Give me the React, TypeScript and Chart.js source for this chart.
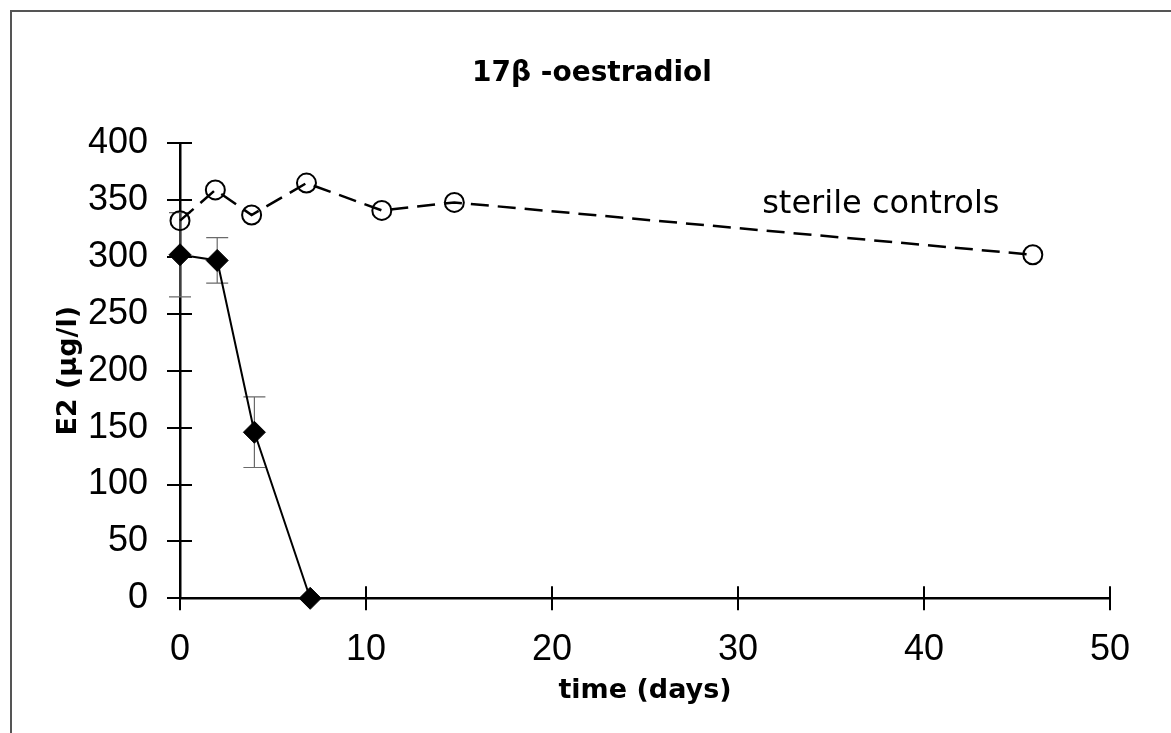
import React, { useEffect, useRef } from 'react';
import { Chart, registerables } from 'chart.js';

Chart.register(...registerables);

const TITLE = '17β -oestradiol';
const X_TITLE = 'time (days)';
const Y_TITLE = 'E2 (µg/l)';
const CONTROL_LABEL = 'sterile controls';

// inoculated series (filled diamonds, solid line) with error bars
const inoculatedDays = [0, 2, 4, 7];
const inoculatedE2 = [302, 297, 146, 0];
const inoculatedErr = [37, 20, 31, 0];

// sterile controls (open circles, dashed line)
const controlDays = [0, 1.9, 3.85, 6.8, 10.85, 14.75, 45.85];
const controlE2 = [332, 359, 337, 365, 341, 348, 302];

const X_MIN = 0;
const X_MAX = 50;
const X_STEP = 10;
const Y_MIN = 0;
const Y_MAX = 400;
const Y_STEP = 50;

// anchor of the "sterile controls" text, in data units
const LABEL_AT_X = 31.3;
const LABEL_AT_Y = 338.7;

const NUM_FONT = '"Liberation Sans", Arial, sans-serif';
const TEXT_FONT = '"DejaVu Sans", sans-serif';

const annotate = {
  id: 'annotate',
  beforeDatasetsDraw(chart: any) {
    const { ctx, chartArea, scales } = chart;
    const x = scales.x;
    const y = scales.y;
    ctx.save();
    ctx.strokeStyle = '#000';
    ctx.lineWidth = 2;
    y.ticks.forEach((t: any) => {
      const py = Math.round(y.getPixelForValue(t.value));
      ctx.beginPath();
      ctx.moveTo(chartArea.left - 13, py);
      ctx.lineTo(chartArea.left + 12, py);
      ctx.stroke();
    });
    x.ticks.forEach((t: any) => {
      const px = Math.round(x.getPixelForValue(t.value));
      ctx.beginPath();
      ctx.moveTo(px, chartArea.bottom - 12);
      ctx.lineTo(px, chartArea.bottom + 12);
      ctx.stroke();
    });
    // error bars
    ctx.strokeStyle = '#6a6a6a';
    ctx.lineWidth = 1.2;
    inoculatedDays.forEach((d, i) => {
      const e = inoculatedErr[i];
      if (!e) return;
      const px = x.getPixelForValue(d);
      const top = y.getPixelForValue(inoculatedE2[i] + e);
      const bot = y.getPixelForValue(inoculatedE2[i] - e);
      ctx.beginPath();
      ctx.moveTo(px, top);
      ctx.lineTo(px, bot);
      ctx.moveTo(px - 11, top);
      ctx.lineTo(px + 11, top);
      ctx.moveTo(px - 11, bot);
      ctx.lineTo(px + 11, bot);
      ctx.stroke();
    });
    // series label
    ctx.fillStyle = '#000';
    ctx.font = '32px ' + TEXT_FONT;
    ctx.textAlign = 'left';
    ctx.textBaseline = 'alphabetic';
    ctx.fillText(CONTROL_LABEL, x.getPixelForValue(LABEL_AT_X), y.getPixelForValue(LABEL_AT_Y));
    ctx.restore();
  },
};

export default function App() {
  const ref = useRef<HTMLCanvasElement | null>(null);

  useEffect(() => {
    if (!ref.current) return;
    const chart = new Chart(ref.current, {
      type: 'line',
      data: {
        datasets: [
          {
            label: 'inoculated',
            data: inoculatedDays.map((d, i) => ({ x: d, y: inoculatedE2[i] })),
            borderColor: '#000',
            borderWidth: 2,
            pointStyle: 'rectRot',
            pointRadius: 11,
            pointBackgroundColor: '#000',
            pointBorderColor: '#000',
            pointBorderWidth: 1,
            fill: false,
            tension: 0,
            clip: false,
          } as any,
          {
            label: CONTROL_LABEL,
            data: controlDays.map((d, i) => ({ x: d, y: controlE2[i] })),
            borderColor: '#000',
            borderWidth: 2.5,
            borderDash: [18, 9],
            pointStyle: 'circle',
            pointRadius: 9.5,
            pointBackgroundColor: 'rgba(0,0,0,0)',
            pointBorderColor: '#000',
            pointBorderWidth: 2,
            fill: false,
            tension: 0,
            clip: false,
          } as any,
        ],
      },
      options: {
        responsive: false,
        animation: false,
        devicePixelRatio: 1,
        layout: { padding: { left: 74, right: 61, top: 0, bottom: 0 }, autoPadding: false } as any,
        plugins: {
          legend: { display: false },
          tooltip: { enabled: false },
          title: {
            display: true,
            text: TITLE,
            color: '#000',
            font: { family: TEXT_FONT, size: 28, weight: 'bold' },
            padding: { top: 57, bottom: 52.7 },
          },
        },
        scales: {
          x: {
            type: 'linear',
            min: X_MIN,
            max: X_MAX,
            afterFit(s: any) {
              s.height = 134.7;
            },
            ticks: { stepSize: X_STEP, color: '#000', font: { family: NUM_FONT, size: 36 }, padding: 30 },
            grid: { display: false, drawTicks: false },
            border: { display: true, color: '#000', width: 2.5 },
            title: {
              display: true,
              text: X_TITLE,
              color: '#000',
              font: { family: TEXT_FONT, size: 27, weight: 'bold' },
              padding: { top: 0, bottom: 26 },
            },
          },
          y: {
            type: 'linear',
            min: Y_MIN,
            max: Y_MAX,
            afterFit(s: any) {
              s.width = 106;
            },
            ticks: { stepSize: Y_STEP, color: '#000', font: { family: NUM_FONT, size: 36 }, padding: 32 },
            grid: { display: false, drawTicks: false },
            border: { display: true, color: '#000', width: 2.5 },
            title: {
              display: true,
              text: Y_TITLE,
              color: '#000',
              font: { family: TEXT_FONT, size: 27, weight: 'bold' },
              padding: { top: -21, bottom: 0 },
            },
          },
        },
      } as any,
      plugins: [annotate],
    });
    return () => chart.destroy();
  }, []);

  return (
    <>
      <canvas
        ref={ref}
        width={1171}
        height={733}
        style={{ position: 'fixed', left: 0, top: 0, width: 1171, height: 733, background: '#fff' }}
      />
      <div
        style={{
          position: 'fixed',
          left: 10,
          top: 10,
          right: -10,
          bottom: -10,
          borderTop: '2px solid #555',
          borderLeft: '2px solid #555',
          pointerEvents: 'none',
        }}
      />
    </>
  );
}
